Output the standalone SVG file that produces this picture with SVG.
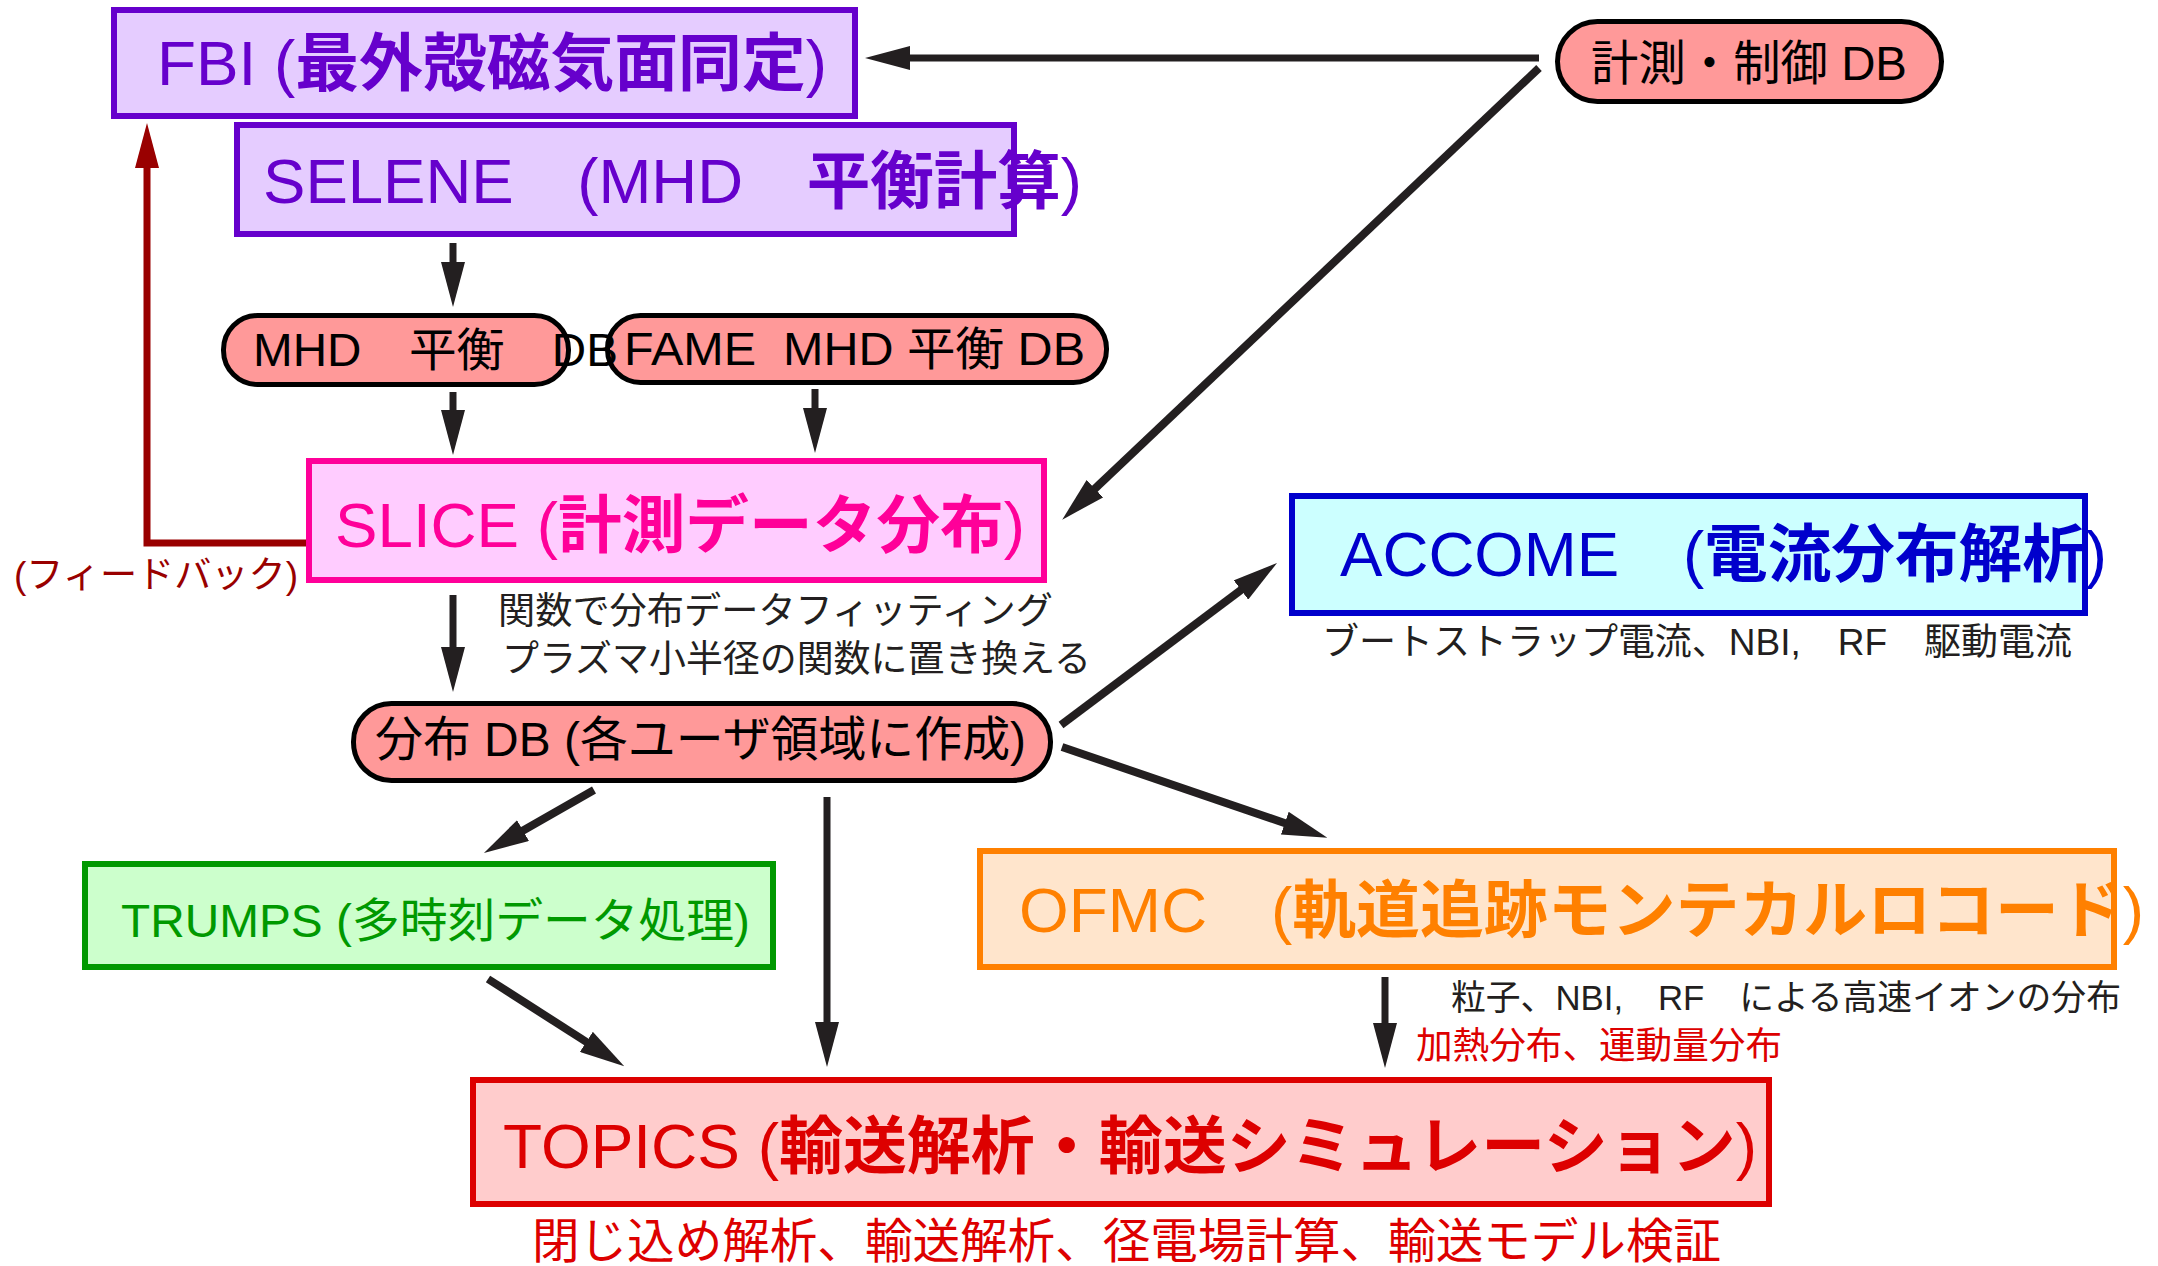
<svg xmlns="http://www.w3.org/2000/svg" width="2158" height="1266" viewBox="0 0 2158 1266">
<style>
text{font-family:"Liberation Sans","Noto Sans CJK JP",sans-serif;}
.b{font-weight:bold;}
.box{stroke-width:6;}
.pill{fill:#FF9999;stroke:#000;stroke-width:5;}
.conn{fill:none;stroke:#231F20;stroke-width:7;stroke-linecap:butt;marker-end:url(#ah);}
.diag{stroke-width:8;}
.fb{fill:none;stroke:#990000;stroke-width:7;marker-end:url(#ahr);}
.cap{fill:#231F20;font-size:37px;}
.red{fill:#DD0000;}
</style>
<defs>
<marker id="ah" markerUnits="userSpaceOnUse" markerWidth="45" markerHeight="24" viewBox="0 0 45 24" refX="15" refY="12" orient="auto"><path d="M0,0 L45,12 L0,24 Z" fill="#231F20"/></marker>
<marker id="ahr" markerUnits="userSpaceOnUse" markerWidth="45" markerHeight="24" viewBox="0 0 45 24" refX="15" refY="12" orient="auto"><path d="M0,0 L45,12 L0,24 Z" fill="#990000"/></marker>
</defs>
<rect width="2158" height="1266" fill="#fff"/>

<g id="connectors">
<path class="conn" d="M1539,58 H895"/>
<path class="conn diag" d="M1539,68 L1084,499"/>
<path class="conn" d="M453,243 V277"/>
<path class="conn" d="M453,392 V425"/>
<path class="conn" d="M815,389 V423"/>
<path class="conn" d="M453,595 V662"/>
<path class="conn diag" d="M1061,725 L1253,581"/>
<path class="conn diag" d="M1062,747 L1299,828"/>
<path class="conn diag" d="M594,790 L510,838"/>
<path class="conn" d="M827,797 V1037"/>
<path class="conn diag" d="M488,979 L599,1050"/>
<path class="conn" d="M1385,977 V1038"/>
<path class="fb" d="M309,543 H147 V153"/>
</g>

<g id="fbi">
<rect class="box" x="114" y="10" width="741" height="106" fill="#E5CCFF" stroke="#6600CC"/>
<text x="157" y="85" font-size="63" fill="#6600CC" textLength="670" lengthAdjust="spacingAndGlyphs">FBI (<tspan class="b">最外殻磁気面同定</tspan>)</text>
</g>

<g id="selene">
<rect class="box" x="237" y="125" width="777" height="109" fill="#E5CCFF" stroke="#6600CC"/>
<text x="263" y="203" font-size="63" fill="#6600CC" textLength="819" lengthAdjust="spacingAndGlyphs">SELENE　(MHD　<tspan class="b">平衡計算</tspan>)</text>
</g>

<g id="keisoku-db">
<rect class="pill" x="1557.5" y="21.5" width="384" height="80" rx="40"/>
<text x="1591" y="80" font-size="48" fill="#000" textLength="316" lengthAdjust="spacingAndGlyphs">計測・制御 DB</text>
</g>

<g id="fame-db">
<rect class="pill" x="607.5" y="315.5" width="499" height="67" rx="33"/>
<text x="624" y="365" font-size="46" fill="#000" xml:space="preserve" textLength="461" lengthAdjust="spacingAndGlyphs">FAME  MHD 平衡 DB</text>
</g>

<g id="mhd-db">
<rect class="pill" x="223.5" y="315.5" width="345" height="69" rx="34"/>
<text x="253" y="366" font-size="46" fill="#000" textLength="365" lengthAdjust="spacingAndGlyphs">MHD　平衡　DB</text>
</g>

<g id="slice">
<rect class="box" x="309" y="461" width="735" height="119" fill="#FFCCFF" stroke="#FF0099"/>
<text x="335" y="547" font-size="63" fill="#FF0099" textLength="690" lengthAdjust="spacingAndGlyphs">SLICE (<tspan class="b">計測データ分布</tspan>)</text>
</g>

<g id="feedback-label">
<text x="14" y="588" font-size="37" fill="#990000" textLength="284" lengthAdjust="spacingAndGlyphs">(フィードバック)</text>
</g>

<g id="fit-label">
<text class="cap" x="498" y="624" textLength="555" lengthAdjust="spacingAndGlyphs">関数で分布データフィッティング</text>
<text class="cap" x="502" y="672" textLength="589" lengthAdjust="spacingAndGlyphs">プラズマ小半径の関数に置き換える</text>
</g>

<g id="bunpu-db">
<rect class="pill" x="353.5" y="703.5" width="697" height="77" rx="38"/>
<text x="375" y="756" font-size="48" fill="#000" textLength="651" lengthAdjust="spacingAndGlyphs">分布 DB (各ユーザ領域に作成)</text>
</g>

<g id="accome">
<rect class="box" x="1292" y="496" width="793" height="117" fill="#CCFFFF" stroke="#0000CC"/>
<text x="1340" y="576" font-size="63" fill="#0000CC" textLength="767" lengthAdjust="spacingAndGlyphs">ACCOME　(<tspan class="b">電流分布解析</tspan>)</text>
<text class="cap" x="1322" y="655" textLength="750" lengthAdjust="spacingAndGlyphs">ブートストラップ電流、NBI,　RF　駆動電流</text>
</g>

<g id="trumps">
<rect class="box" x="85" y="864" width="688" height="103" fill="#CCFFCC" stroke="#009900"/>
<text x="121" y="937" font-size="47" fill="#009900" textLength="629" lengthAdjust="spacingAndGlyphs">TRUMPS (多時刻データ処理)</text>
</g>

<g id="ofmc">
<rect class="box" x="980" y="851" width="1134" height="116" fill="#FFE5CC" stroke="#FF8000"/>
<text x="1019" y="932" font-size="63" fill="#FF8000" textLength="1125" lengthAdjust="spacingAndGlyphs">OFMC　(<tspan class="b">軌道追跡モンテカルロコード</tspan>)</text>
<text x="1451" y="1010" fill="#231F20" font-size="35" textLength="670" lengthAdjust="spacingAndGlyphs">粒子、NBI,　RF　による高速イオンの分布</text>
<text class="cap red" x="1416" y="1059" textLength="366" lengthAdjust="spacingAndGlyphs">加熱分布、運動量分布</text>
</g>

<g id="topics">
<rect class="box" x="473" y="1080" width="1296" height="124" fill="#FFCCCC" stroke="#DD0000"/>
<text x="503" y="1168" font-size="63" fill="#DD0000" textLength="1254" lengthAdjust="spacingAndGlyphs">TOPICS (<tspan class="b">輸送解析・輸送シミュレーション</tspan>)</text>
<text class="red" x="532" y="1258" font-size="47.5" textLength="1189" lengthAdjust="spacingAndGlyphs">閉じ込め解析、輸送解析、径電場計算、輸送モデル検証</text>
</g>
</svg>
